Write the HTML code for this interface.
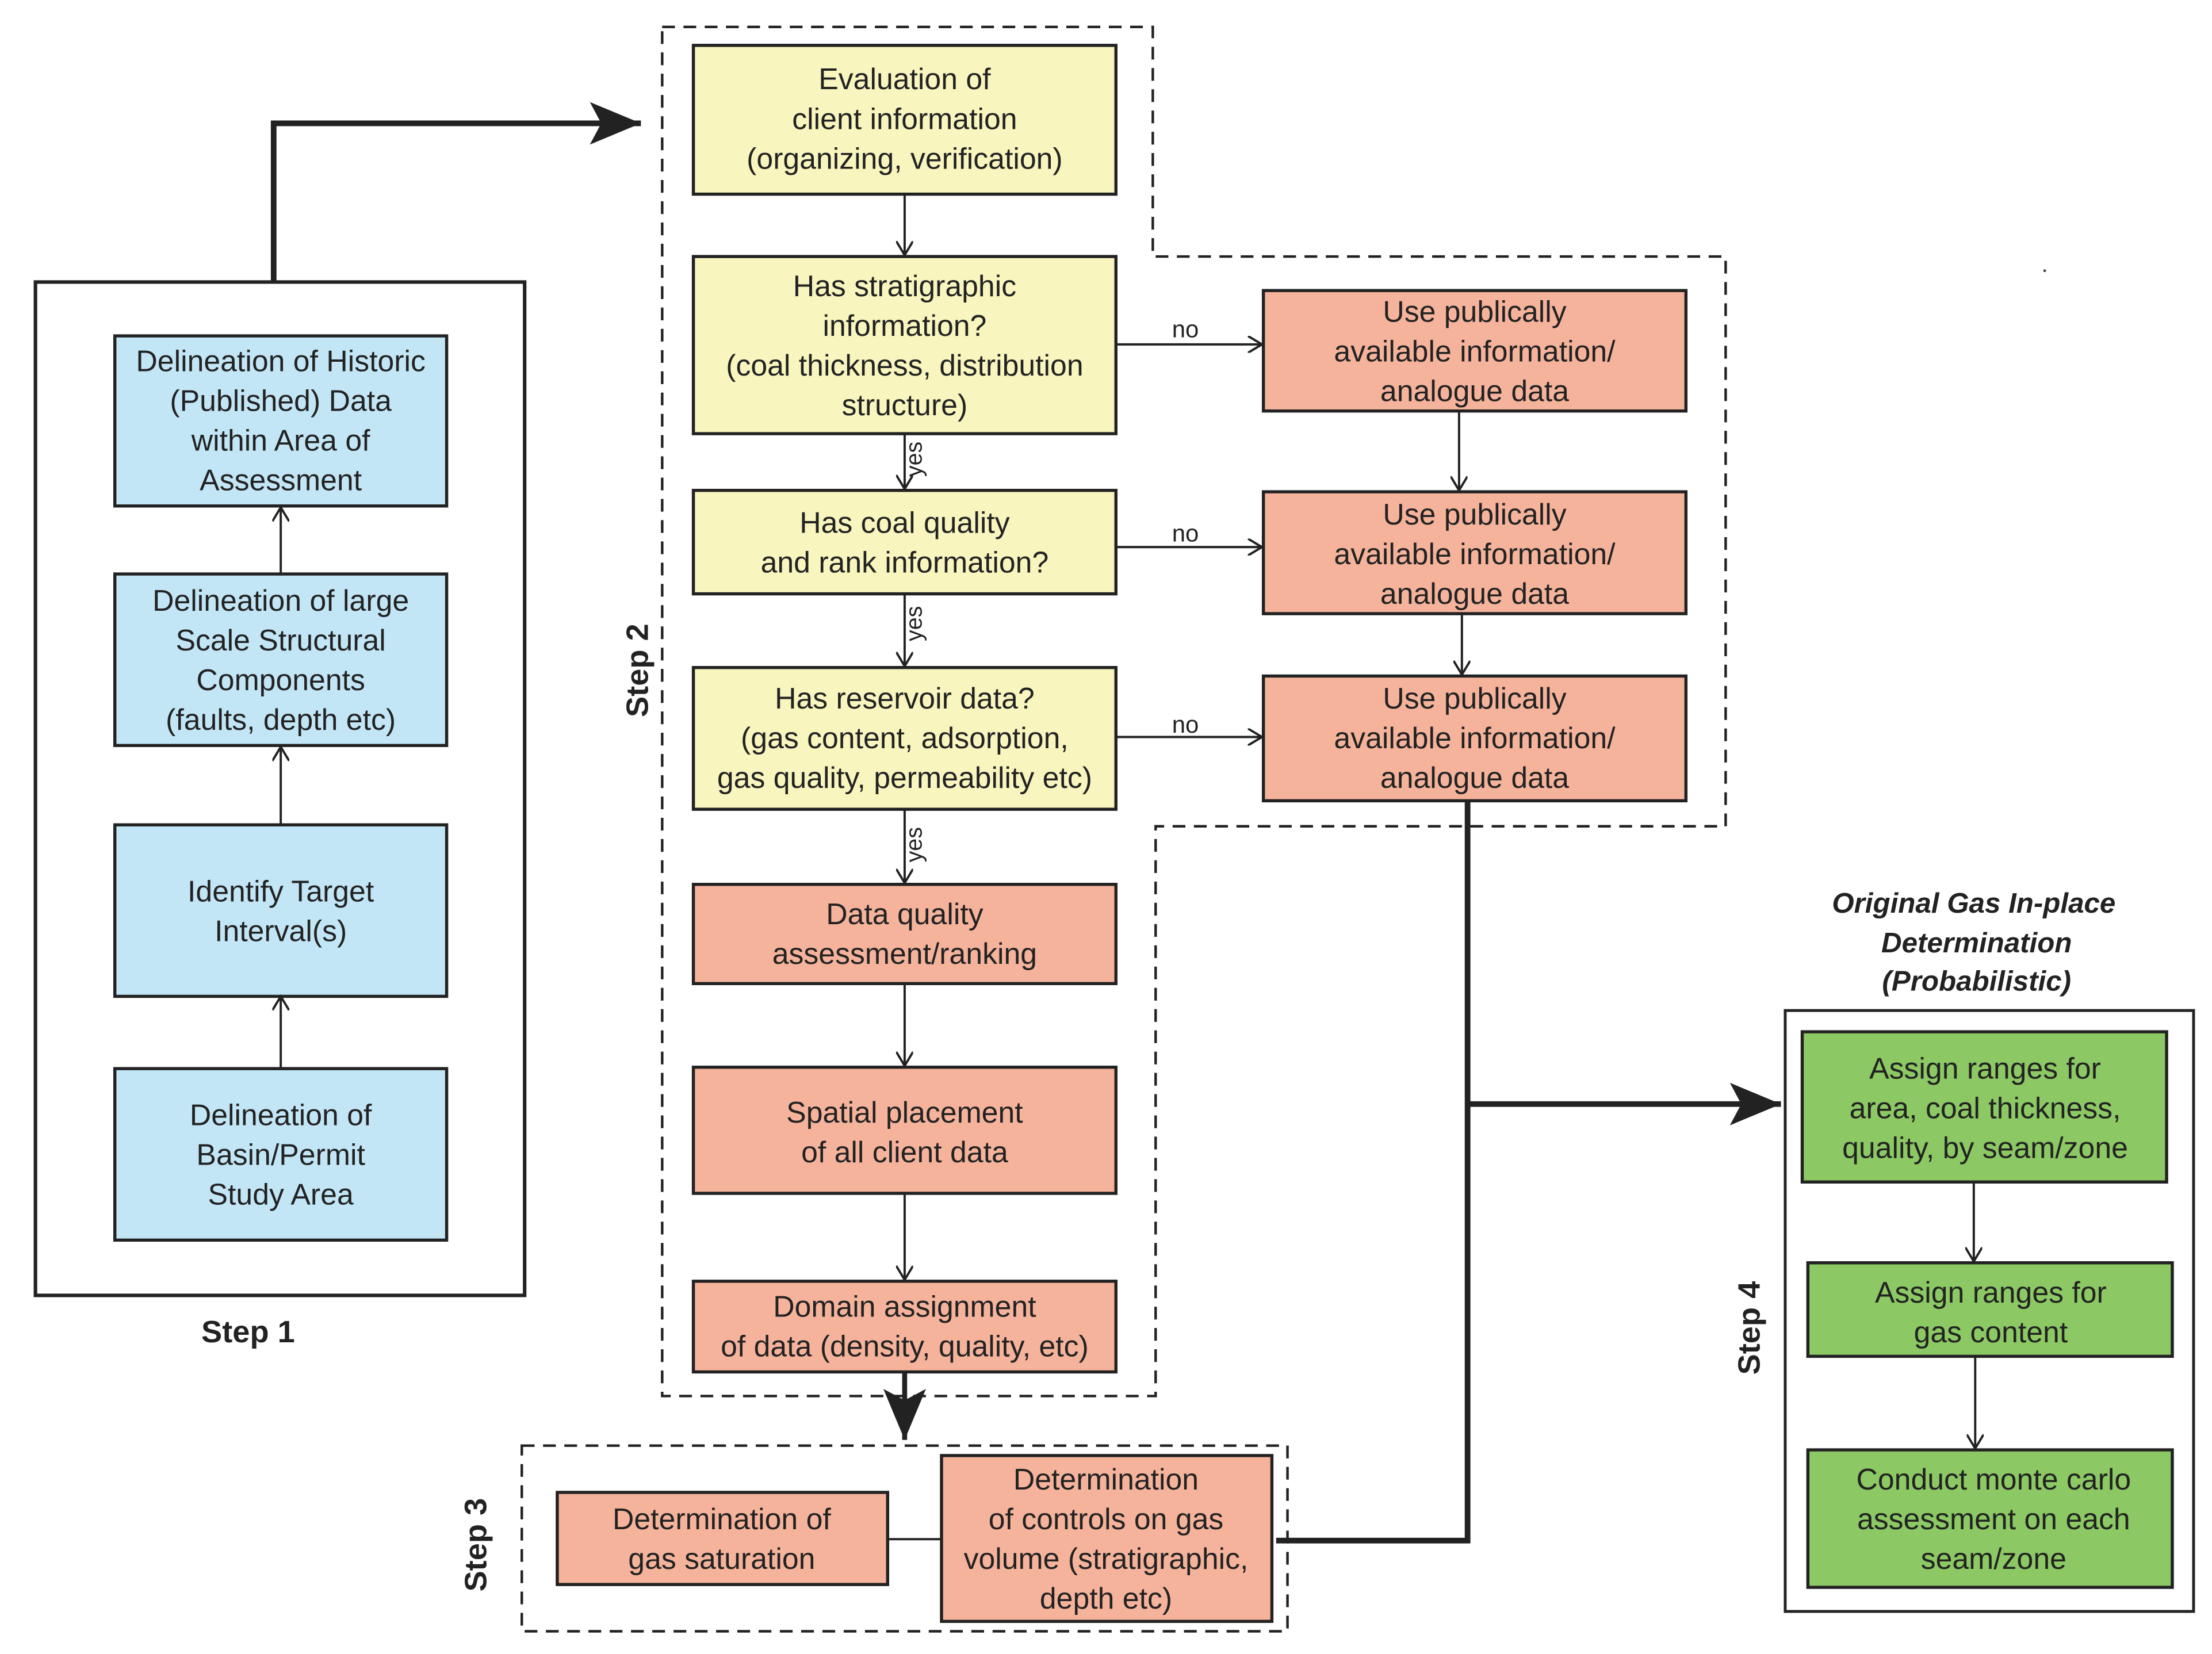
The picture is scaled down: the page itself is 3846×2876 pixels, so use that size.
<!DOCTYPE html>
<html><head><meta charset="utf-8"><style>html,body{margin:0;padding:0;background:#fff}</style></head>
<body>
<svg xmlns="http://www.w3.org/2000/svg" width="3846" height="2871" viewBox="0 0 1560 1165" preserveAspectRatio="none" font-family="'Liberation Sans Narrow','Liberation Sans',sans-serif" font-size="21" fill="#222">
<defs>
<marker id="a" markerWidth="12" markerHeight="12" refX="10" refY="6" orient="auto" markerUnits="userSpaceOnUse"><path d="M0,0 L10,6 L0,12" fill="none" stroke="#222" stroke-width="1.6"/></marker>
<marker id="b" markerWidth="40" markerHeight="30" refX="36" refY="15" orient="auto" markerUnits="userSpaceOnUse"><path d="M0,0 L36,15 L0,30 L8,15 Z" fill="#222"/></marker>
</defs>
<g stroke="#222" stroke-width="2" fill="none">
<rect x="25" y="199" width="345" height="715" stroke-width="2.5"/>
<path d="M193,199 V87 H452" stroke-width="4" marker-end="url(#b)"/>
<path d="M467,19 H813 V181 H1217 V583 H815 V985 H467 Z" stroke-dasharray="9,6" stroke-width="1.8"/>
<rect x="368" y="1020" width="540" height="131" stroke-dasharray="9,6" stroke-width="1.8"/>
<rect x="1259" y="713" width="288" height="424" stroke-width="2"/>
</g>
<g stroke="#222" stroke-width="2.2">
<rect x="81" y="237" width="234" height="120" fill="#c3e6f6"/>
<rect x="81" y="405" width="234" height="121" fill="#c3e6f6"/>
<rect x="81" y="582" width="234" height="121" fill="#c3e6f6"/>
<rect x="81" y="754" width="234" height="121" fill="#c3e6f6"/>
<rect x="489" y="32" width="298" height="105" fill="#f8f5bf"/>
<rect x="489" y="181" width="298" height="125" fill="#f8f5bf"/>
<rect x="489" y="346" width="298" height="73" fill="#f8f5bf"/>
<rect x="489" y="471" width="298" height="100" fill="#f8f5bf"/>
<rect x="489" y="624" width="298" height="70" fill="#f5b39c"/>
<rect x="489" y="753" width="298" height="89" fill="#f5b39c"/>
<rect x="489" y="904" width="298" height="64" fill="#f5b39c"/>
<rect x="891" y="205" width="298" height="85" fill="#f5b39c"/>
<rect x="891" y="347" width="298" height="86" fill="#f5b39c"/>
<rect x="891" y="477" width="298" height="88" fill="#f5b39c"/>
<rect x="393" y="1053" width="233" height="65" fill="#f5b39c"/>
<rect x="664" y="1027" width="233" height="117" fill="#f5b39c"/>
<rect x="1271" y="728" width="257" height="106" fill="#8cc863"/>
<rect x="1275" y="891" width="257" height="66" fill="#8cc863"/>
<rect x="1275" y="1023" width="257" height="97" fill="#8cc863"/>
</g>
<g stroke="#222" stroke-width="1.6" fill="none" marker-end="url(#a)">
<path d="M198,754 V703"/><path d="M198,582 V527"/><path d="M198,405 V358"/>
<path d="M638,137 V180"/><path d="M638,306 V345"/><path d="M638,419 V470"/><path d="M638,571 V623"/>
<path d="M638,694 V752"/><path d="M638,842 V903"/>
<path d="M787,243 H890"/><path d="M787,386 H890"/><path d="M787,520 H890"/>
<path d="M1029,290 V346"/><path d="M1031,433 V476"/>
<path d="M1392,834 V890"/><path d="M1393,957 V1022"/>
</g>
<path d="M626,1086 H664" stroke="#222" stroke-width="1.6"/>
<g stroke="#222" stroke-width="4" fill="none">
<path d="M1035,565 V1087 H900"/>
<path d="M1035,779 H1256" marker-end="url(#b)"/>
<path d="M638,968 V1016" stroke-width="3.5" marker-end="url(#b)" />
</g>
<circle cx="1442" cy="191" r="1" fill="#444"/>
<g text-anchor="middle">
<text x="198" y="262">Delineation of Historic</text><text x="198" y="290">(Published) Data</text><text x="198" y="318">within Area of</text><text x="198" y="346">Assessment</text>
<text x="198" y="431">Delineation of large</text><text x="198" y="459">Scale Structural</text><text x="198" y="487">Components</text><text x="198" y="515">(faults, depth etc)</text>
<text x="198" y="636">Identify Target</text><text x="198" y="664">Interval(s)</text>
<text x="198" y="794">Delineation of</text><text x="198" y="822">Basin/Permit</text><text x="198" y="850">Study Area</text>
<text x="638" y="63">Evaluation of</text><text x="638" y="91">client information</text><text x="638" y="119">(organizing, verification)</text>
<text x="638" y="209">Has stratigraphic</text><text x="638" y="237">information?</text><text x="638" y="265">(coal thickness, distribution</text><text x="638" y="293">structure)</text>
<text x="638" y="376">Has coal quality</text><text x="638" y="404">and rank information?</text>
<text x="638" y="500">Has reservoir data?</text><text x="638" y="528">(gas content, adsorption,</text><text x="638" y="556">gas quality, permeability etc)</text>
<text x="638" y="652">Data quality</text><text x="638" y="680">assessment/ranking</text>
<text x="638" y="792">Spatial placement</text><text x="638" y="820">of all client data</text>
<text x="638" y="929">Domain assignment</text><text x="638" y="957">of data (density, quality, etc)</text>
<text x="1040" y="227">Use publically</text><text x="1040" y="255">available information/</text><text x="1040" y="283">analogue data</text>
<text x="1040" y="370">Use publically</text><text x="1040" y="398">available information/</text><text x="1040" y="426">analogue data</text>
<text x="1040" y="500">Use publically</text><text x="1040" y="528">available information/</text><text x="1040" y="556">analogue data</text>
<text x="509" y="1079">Determination of</text><text x="509" y="1107">gas saturation</text>
<text x="780" y="1051">Determination</text><text x="780" y="1079">of controls on gas</text><text x="780" y="1107">volume (stratigraphic,</text><text x="780" y="1135">depth etc)</text>
<text x="1400" y="761">Assign ranges for</text><text x="1400" y="789">area, coal thickness,</text><text x="1400" y="817">quality, by seam/zone</text>
<text x="1404" y="919">Assign ranges for</text><text x="1404" y="947">gas content</text>
<text x="1406" y="1051">Conduct monte carlo</text><text x="1406" y="1079">assessment on each</text><text x="1406" y="1107">seam/zone</text>
<g font-size="17"><text x="836" y="238">no</text><text x="836" y="382">no</text><text x="836" y="517">no</text></g>
<g font-weight="bold" font-style="italic" font-size="20">
<text x="1392" y="644">Original Gas In-place</text><text x="1394" y="672">Determination</text><text x="1394" y="699">(Probabilistic)</text></g>
<text x="175" y="947" font-weight="bold" font-size="22">Step 1</text>
<text transform="translate(457,473) rotate(-90)" font-weight="bold" font-size="22">Step 2</text>
<text transform="translate(343,1090) rotate(-90)" font-weight="bold" font-size="22">Step 3</text>
<text transform="translate(1241,937) rotate(-90)" font-weight="bold" font-size="22">Step 4</text>
</g>
<g font-size="16">
<text transform="translate(650,324) rotate(-90)" text-anchor="middle">yes</text>
<text transform="translate(650,440) rotate(-90)" text-anchor="middle">yes</text>
<text transform="translate(650,596) rotate(-90)" text-anchor="middle">yes</text>
</g>
</svg>
</body></html>
